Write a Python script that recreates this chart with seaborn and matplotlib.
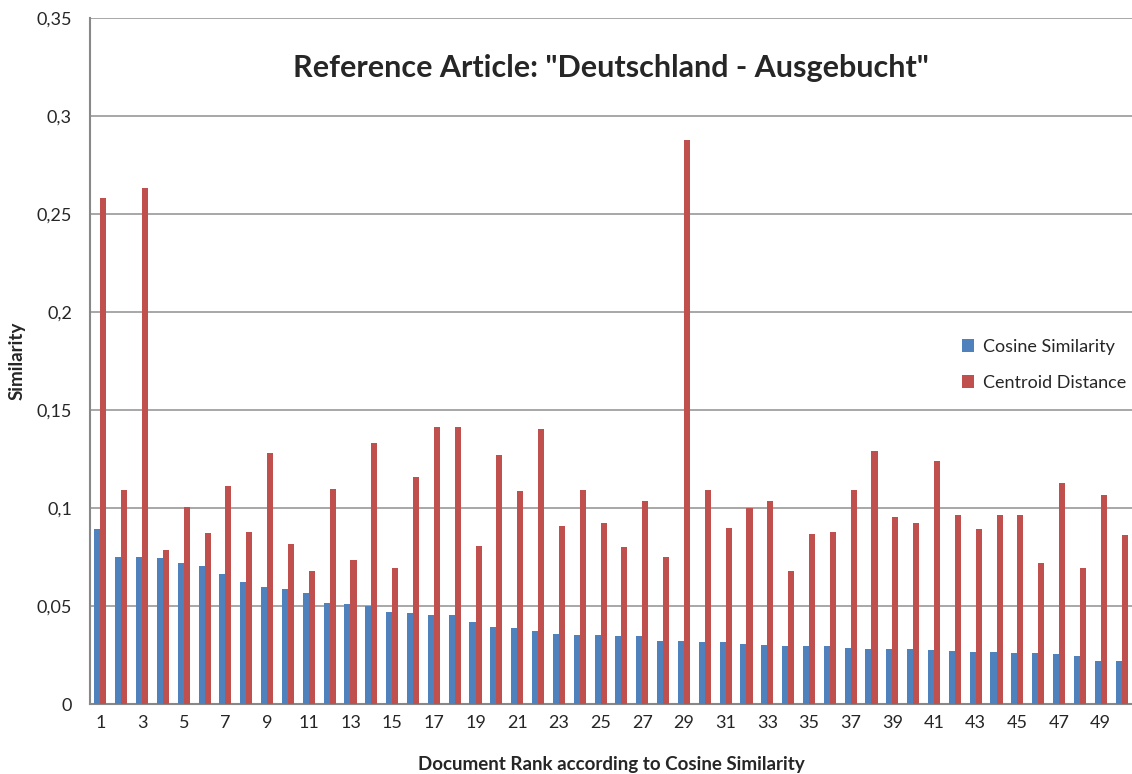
import pandas as pd
import numpy as np
import matplotlib.pyplot as plt
import seaborn as sns

# Values
ranks = list(range(1, 51))
cosine = [0.0895, 0.0751, 0.0751, 0.0744, 0.0717, 0.0705, 0.0664, 0.0620, 0.0598, 0.0585,
          0.0564, 0.0514, 0.0508, 0.0502, 0.0468, 0.0463, 0.0456, 0.0456, 0.0419, 0.0393,
          0.0388, 0.0375, 0.0356, 0.0354, 0.0351, 0.0347, 0.0346, 0.0322, 0.0322, 0.0317,
          0.0314, 0.0307, 0.0302, 0.0297, 0.0295, 0.0295, 0.0286, 0.0283, 0.0281, 0.0280,
          0.0275, 0.0271, 0.0263, 0.0263, 0.0261, 0.0259, 0.0256, 0.0246, 0.0220, 0.0220]
centroid = [0.2582, 0.1092, 0.2634, 0.0785, 0.1003, 0.0873, 0.1114, 0.0876, 0.1281, 0.0817,
            0.0681, 0.1098, 0.0737, 0.1329, 0.0695, 0.1156, 0.1414, 0.1414, 0.0808, 0.1269,
            0.1086, 0.1402, 0.0908, 0.1092, 0.0925, 0.0802, 0.1036, 0.0749, 0.2878, 0.1092,
            0.0900, 0.1002, 0.1034, 0.0681, 0.0869, 0.0876, 0.1092, 0.1293, 0.0953, 0.0922,
            0.1241, 0.0966, 0.0895, 0.0964, 0.0964, 0.0720, 0.1127, 0.0692, 0.1066, 0.0863]
series_names = ["Cosine Similarity", "Centroid Distance"]
y_ticks = [0, 0.05, 0.1, 0.15, 0.2, 0.25, 0.3, 0.35]
y_tick_labels = ["0", "0,05", "0,1", "0,15", "0,2", "0,25", "0,3", "0,35"]

df = pd.DataFrame({
    "rank": ranks * 2,
    "value": cosine + centroid,
    "series": [series_names[0]] * len(ranks) + [series_names[1]] * len(ranks),
})

sns.set_style("white")
plt.rcParams["font.family"] = ["Lato", "DejaVu Sans"]

fig = plt.figure(figsize=(11.32, 7.74), dpi=100)
ax = fig.add_axes([0.0795, 0.0904, 0.9205, 0.8866])

sns.barplot(data=df, x="rank", y="value", hue="series",
            palette=["#4F81BD", "#C0504D"], saturation=1, width=0.58, gap=0,
            errorbar=None, ax=ax, zorder=3, linewidth=0)

ax.set_xlim(-0.5, len(ranks) - 0.5)
ax.set_ylim(0, 0.35)
ax.set_yticks(y_ticks)
ax.set_yticklabels(y_tick_labels, fontsize=13)
ax.set_xticks(range(0, len(ranks), 2))
ax.set_xticklabels([str(r) for r in ranks[::2]], fontsize=13)
ax.yaxis.grid(True, color="#A0A0A0", linewidth=1.3, zorder=0)
ax.set_axisbelow(True)
for s in ["top", "right"]:
    ax.spines[s].set_visible(False)
for s in ["left", "bottom"]:
    ax.spines[s].set_color("#888888")
    ax.spines[s].set_linewidth(1.5)
ax.tick_params(axis="y", length=7, color="#888888", width=1.3, pad=6)
ax.tick_params(axis="x", length=0, pad=8)

ax.set_xlabel("Document Rank according to Cosine Similarity", fontsize=13.5, fontweight="bold", labelpad=18)
ax.set_ylabel("Similarity", fontsize=13.5, fontweight="bold", labelpad=8)
ax.text(0.5, 0.927, 'Reference Article: "Deutschland - Ausgebucht"', transform=ax.transAxes,
        ha="center", va="center", fontsize=22, fontweight="bold")

ax.legend(loc="center left", bbox_to_anchor=(0.821, 0.494), frameon=False, fontsize=13,
          handlelength=0.7, handleheight=0.7, labelspacing=1.1, handletextpad=0.5)

plt.savefig("out.png", dpi=100)
